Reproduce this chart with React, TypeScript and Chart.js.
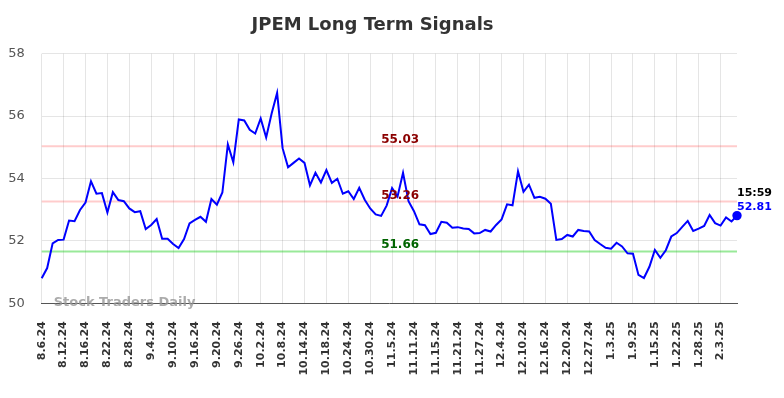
import React, { useEffect, useRef } from "react";
import { Chart, registerables } from "chart.js";

Chart.register(...registerables);

const dates: string[] = [
  "8.6.24","8.7.24","8.8.24","8.9.24","8.12.24","8.13.24","8.14.24","8.15.24","8.16.24","8.19.24",
  "8.20.24","8.21.24","8.22.24","8.23.24","8.26.24","8.27.24","8.28.24","8.29.24","8.30.24",
  "9.3.24","9.4.24","9.5.24","9.6.24","9.9.24","9.10.24","9.11.24","9.12.24","9.13.24","9.16.24",
  "9.17.24","9.18.24","9.19.24","9.20.24","9.23.24","9.24.24","9.25.24","9.26.24","9.27.24","9.30.24",
  "10.1.24","10.2.24","10.3.24","10.4.24","10.7.24","10.8.24","10.9.24","10.10.24","10.11.24","10.14.24",
  "10.15.24","10.16.24","10.17.24","10.18.24","10.21.24","10.22.24","10.23.24","10.24.24","10.25.24",
  "10.28.24","10.29.24","10.30.24","10.31.24",
  "11.1.24","11.4.24","11.5.24","11.6.24","11.7.24","11.8.24","11.11.24","11.12.24","11.13.24","11.14.24",
  "11.15.24","11.18.24","11.19.24","11.20.24","11.21.24","11.22.24","11.25.24","11.26.24","11.27.24","11.29.24",
  "12.2.24","12.3.24","12.4.24","12.5.24","12.6.24","12.9.24","12.10.24","12.11.24","12.12.24","12.13.24",
  "12.16.24","12.17.24","12.18.24","12.19.24","12.20.24","12.23.24","12.24.24","12.26.24","12.27.24",
  "12.30.24","12.31.24",
  "1.2.25","1.3.25","1.6.25","1.7.25","1.8.25","1.9.25","1.10.25","1.13.25","1.14.25","1.15.25",
  "1.16.25","1.17.25","1.21.25","1.22.25","1.23.25","1.24.25","1.27.25","1.28.25","1.29.25","1.30.25","1.31.25",
  "2.3.25","2.4.25","2.5.25","2.6.25"
];

const prices: number[] = [
  50.80, 51.13, 51.92, 52.03, 52.04, 52.65, 52.63, 52.99, 53.23, 53.91,
  53.51, 53.53, 52.91, 53.56, 53.31, 53.27, 53.04, 52.92, 52.95, 52.38,
  52.51, 52.70, 52.07, 52.07, 51.90, 51.77, 52.06, 52.56, 52.67, 52.77,
  52.61, 53.34, 53.16, 53.55, 55.09, 54.52, 55.89, 55.86, 55.56, 55.44,
  55.92, 55.31, 56.08, 56.74, 54.97, 54.36, 54.50, 54.64, 54.50, 53.78,
  54.18, 53.87, 54.27, 53.86, 53.99, 53.51, 53.59, 53.34, 53.70, 53.32,
  53.04, 52.85, 52.80, 53.13, 53.69, 53.42, 54.18, 53.27, 52.95, 52.53,
  52.50, 52.22, 52.26, 52.61, 52.58, 52.42, 52.44, 52.40, 52.38, 52.24,
  52.25, 52.35, 52.30, 52.51, 52.69, 53.17, 53.14, 54.23, 53.57, 53.80,
  53.38, 53.41, 53.35, 53.19, 52.03, 52.06, 52.19, 52.14, 52.35, 52.32,
  52.30, 52.03, 51.90, 51.78, 51.75, 51.94, 51.82, 51.60, 51.59, 50.91,
  50.81, 51.17, 51.71, 51.46, 51.70, 52.14, 52.25, 52.45, 52.64, 52.32,
  52.39, 52.48, 52.83, 52.57, 52.49, 52.75, 52.62, 52.81
];

const signalValues: number[] = [55.03, 53.26, 51.66];
const signalLineColors: string[] = ["rgba(255,0,0,0.2)", "rgba(255,0,0,0.2)", "rgba(0,200,0,0.4)"];
const signalTextColors: string[] = ["#8b0000", "#8b0000", "#006400"];
const signalLabelIndex = 62;

const lastTime = "15:59";
const yTicks: number[] = [50, 52, 54, 56, 58];

const FONT = "'DejaVu Sans', sans-serif";

const overlayPlugin = {
  id: "overlay",
  beforeDatasetsDraw(chart: any) {
    const { ctx, chartArea, scales } = chart;
    const y = scales.y;
    ctx.save();
    signalValues.forEach((v, i) => {
      const py = y.getPixelForValue(v);
      ctx.strokeStyle = signalLineColors[i];
      ctx.lineWidth = 2;
      ctx.beginPath();
      ctx.moveTo(chartArea.left, py);
      ctx.lineTo(chartArea.right, py);
      ctx.stroke();
    });
    ctx.font = `bold 13px ${FONT}`;
    ctx.fillStyle = "rgba(150,150,150,0.8)";
    ctx.textAlign = "left";
    ctx.textBaseline = "alphabetic";
    ctx.fillText("Stock Traders Daily", chartArea.left + 12, chartArea.bottom + 3);
    ctx.restore();
  },
  afterDatasetsDraw(chart: any) {
    const { ctx, scales } = chart;
    const y = scales.y;
    const x = scales.x;
    ctx.save();
    ctx.font = `bold 12px ${FONT}`;
    ctx.textAlign = "left";
    ctx.textBaseline = "alphabetic";
    signalValues.forEach((v, i) => {
      const py = y.getPixelForValue(v);
      ctx.fillStyle = signalTextColors[i];
      ctx.fillText(v.toFixed(2), x.getPixelForValue(signalLabelIndex), py - 3);
    });
    const li = prices.length - 1;
    const px = x.getPixelForValue(li);
    const py = y.getPixelForValue(prices[li]);
    ctx.font = `bold 11px ${FONT}`;
    ctx.fillStyle = "#000";
    ctx.fillText(lastTime, px, py - 20);
    ctx.fillStyle = "#0000ff";
    ctx.fillText(prices[li].toFixed(2), px, py - 6);
    ctx.restore();
  },
};

export default function App() {
  const canvasRef = useRef<HTMLCanvasElement | null>(null);

  useEffect(() => {
    document.body.style.margin = "0";
    if (!canvasRef.current) return;
    Chart.defaults.font.family = FONT;
    const last = prices.length - 1;
    const chart = new Chart(canvasRef.current, {
      type: "line",
      data: {
        labels: dates,
        datasets: [
          {
            data: prices,
            borderColor: "#0000ff",
            backgroundColor: "#0000ff",
            borderWidth: 2,
            tension: 0,
            pointRadius: (c: any) => (c.dataIndex === last ? 3.7 : 0),
            pointHoverRadius: 0,
            fill: false,
          },
        ],
      },
      options: {
        animation: false,
        responsive: true,
        maintainAspectRatio: false,
        layout: { padding: { left: 8, right: 47, top: 0, bottom: 0 } },
        plugins: {
          legend: { display: false },
          tooltip: { enabled: false },
          title: {
            display: true,
            text: "JPEM Long Term Signals",
            color: "#333",
            font: { family: FONT, size: 18, weight: "bold" },
            padding: { top: 15, bottom: 17 },
          },
        },
        scales: {
          x: {
            grid: { color: "rgba(0,0,0,0.1)", drawTicks: false },
            border: { display: true, color: "#555", width: 1 },
            afterFit: (s: any) => {
              s.height = 94.7;
              s.paddingLeft = 0;
              s.paddingRight = 0;
            },
            ticks: {
              autoSkip: false,
              maxRotation: 90,
              minRotation: 90,
              padding: 18,
              color: "#333",
              font: { family: FONT, size: 11, weight: "bold" },
              callback: (_v: any, i: number) => (i % 4 === 0 ? dates[i] : null),
            },
          },
          y: {
            min: yTicks[0],
            max: yTicks[yTicks.length - 1],
            grid: { color: "rgba(0,0,0,0.1)", drawTicks: false },
            border: { display: false },
            afterFit: (s: any) => {
              s.width = 33.7;
            },
            afterBuildTicks: (axis: any) => {
              axis.ticks = yTicks.map((v) => ({ value: v }));
            },
            ticks: {
              padding: 17,
              color: "#555",
              font: { family: FONT, size: 13 },
            },
          },
        },
      },
      plugins: [overlayPlugin],
    });
    return () => chart.destroy();
  }, []);

  return (
    <div style={{ width: "784px", height: "398px", position: "relative" }}>
      <canvas ref={canvasRef} />
    </div>
  );
}
